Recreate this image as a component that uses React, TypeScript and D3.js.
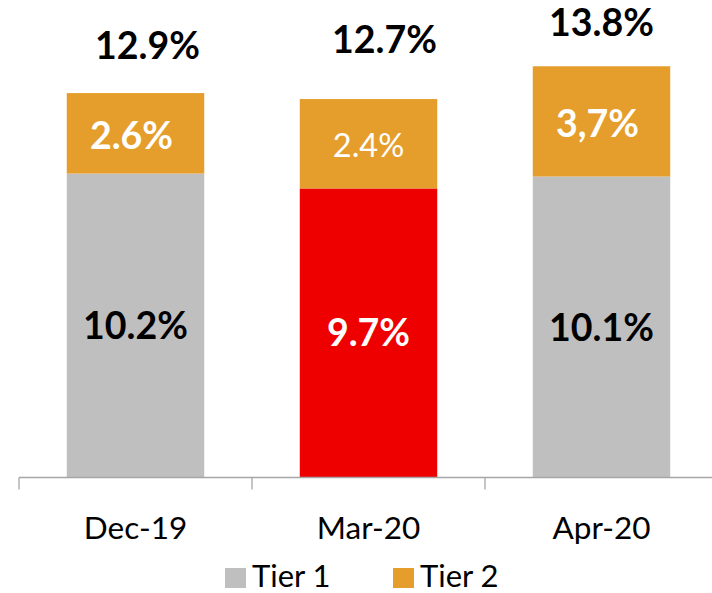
import React, { useEffect, useRef } from 'react';
import * as d3 from 'd3';

// data (segment heights as drawn; labels as printed on the chart)
const categories = ['Dec-19', 'Mar-20', 'Apr-20'];
const tier1 = [10.2, 9.7, 10.1];
const tier2 = [2.7, 3.0, 3.7];
const tier1Labels = ['10.2%', '9.7%', '10.1%'];
const tier2Labels = ['2.6%', '2.4%', '3,7%'];
const totalLabels = ['12.9%', '12.7%', '13.8%'];
const highlighted = ['Mar-20'];

const W = 712;
const H = 593;
const FONT = 'Lato, "Open Sans", sans-serif';
const GREY = '#bfbfbf';
const ORANGE = '#e59e2c';
const RED = '#ee0000';
// hand-placed offsets of the total labels, as in the source chart
const totalNudge = [
    { dx: 12, dy: -48 },
    { dx: 16, dy: -60 },
    { dx: 0, dy: -44 }
];

export default function App() {
    const svgRef = useRef<SVGSVGElement>(null);

    useEffect(() => {
        const svg = d3.select(svgRef.current);
        svg.selectAll('*').remove();

        const baseY = 477.5;
        const x = d3.scaleBand<string>()
            .domain(categories)
            .range([19, 718])
            .paddingInner(0.41)
            .paddingOuter(0.205);

        const y = d3.scaleLinear()
            .domain([0, 14])
            .range([baseY, baseY - 14 * 29.8]);

        const rows = categories.map((c, i) => ({
            c,
            t1: tier1[i],
            t2: tier2[i],
            l1: tier1Labels[i],
            l2: tier2Labels[i],
            lt: totalLabels[i],
            i
        }));

        const g = svg.append('g');

        // tier 1
        g.selectAll('.t1')
            .data(rows)
            .enter()
            .append('rect')
            .attr('x', (d) => x(d.c)!)
            .attr('y', (d) => y(d.t1))
            .attr('width', x.bandwidth())
            .attr('height', (d) => y(0) - y(d.t1))
            .attr('fill', (d) => (highlighted.includes(d.c) ? RED : GREY));

        // tier 2
        g.selectAll('.t2')
            .data(rows)
            .enter()
            .append('rect')
            .attr('x', (d) => x(d.c)!)
            .attr('y', (d) => y(d.t1 + d.t2))
            .attr('width', x.bandwidth())
            .attr('height', (d) => y(d.t1) - y(d.t1 + d.t2))
            .attr('fill', ORANGE);

        // axis
        const axis = g.append('g').attr('transform', `translate(0,${baseY})`);
        axis.append('line')
            .attr('x1', 19).attr('x2', 718)
            .attr('y1', 0).attr('y2', 0)
            .attr('stroke', '#a6a6a6')
            .attr('stroke-width', 1.3);
        const edges = categories.map((c) => x(c)! - x.step() * x.paddingInner() / 2).concat([718]);
        axis.selectAll('.edge')
            .data(edges)
            .enter()
            .append('line')
            .attr('x1', (d) => d).attr('x2', (d) => d)
            .attr('y1', 0).attr('y2', 12)
            .attr('stroke', '#a6a6a6')
            .attr('stroke-width', 1.3);

        // category labels
        g.selectAll('.cat')
            .data(rows)
            .enter()
            .append('text')
            .attr('x', (d) => x(d.c)! + x.bandwidth() / 2)
            .attr('y', 539)
            .attr('text-anchor', 'middle')
            .style('font-family', FONT)
            .style('font-size', '31.5px')
            .style('fill', '#000')
            .text((d) => d.c);

        // value labels
        g.selectAll('.l1')
            .data(rows)
            .enter()
            .append('text')
            .attr('x', (d) => x(d.c)! + x.bandwidth() / 2)
            .attr('y', (d) => (y(0) + y(d.t1)) / 2)
            .attr('dy', '0.36em')
            .attr('text-anchor', 'middle')
            .style('font-family', FONT)
            .style('font-size', '37.5px')
            .style('font-weight', 'bold')
            .style('fill', (d) => (highlighted.includes(d.c) ? '#fff' : '#000'))
            .text((d) => d.l1);

        g.selectAll('.l2')
            .data(rows)
            .enter()
            .append('text')
            .attr('x', (d) => x(d.c)! + x.bandwidth() / 2 - (highlighted.includes(d.c) ? 0 : 4))
            .attr('y', (d) => (y(d.t1) + y(d.t1 + d.t2)) / 2 + 2)
            .attr('dy', '0.36em')
            .attr('text-anchor', 'middle')
            .style('font-family', FONT)
            .style('font-size', (d) => (highlighted.includes(d.c) ? '32.5px' : '37.5px'))
            .style('font-weight', (d) => (highlighted.includes(d.c) ? 'normal' : 'bold'))
            .style('fill', '#fff')
            .text((d) => d.l2);

        g.selectAll('.lt')
            .data(rows)
            .enter()
            .append('text')
            .attr('x', (d) => x(d.c)! + x.bandwidth() / 2 + totalNudge[d.i].dx)
            .attr('y', (d) => y(d.t1 + d.t2) + totalNudge[d.i].dy)
            .attr('dy', '0.36em')
            .attr('text-anchor', 'middle')
            .style('font-family', FONT)
            .style('font-size', '37.5px')
            .style('font-weight', 'bold')
            .style('fill', '#000')
            .text((d) => d.lt);

        // legend
        const legend = [
            { name: 'Tier 1', color: GREY, x: 225 },
            { name: 'Tier 2', color: ORANGE, x: 393 }
        ];
        const lg = g.selectAll('.lg').data(legend).enter().append('g');
        lg.append('rect')
            .attr('x', (d) => d.x)
            .attr('y', 568)
            .attr('width', 21)
            .attr('height', 20)
            .attr('fill', (d) => d.color);
        lg.append('text')
            .attr('x', (d) => d.x + 27)
            .attr('y', 587)
            .style('font-family', FONT)
            .style('font-size', '31px')
            .style('fill', '#000')
            .text((d) => d.name);
    }, []);

    return (
        <svg
            ref={svgRef}
            width={W}
            height={H}
            style={{ position: 'absolute', left: 0, top: 0, background: '#fff' }}
        />
    );
}
